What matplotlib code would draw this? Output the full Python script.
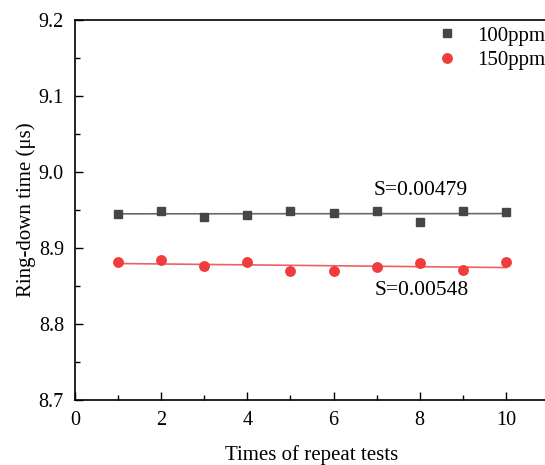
import numpy as np
import matplotlib
matplotlib.use("Agg")
import matplotlib.pyplot as plt
from matplotlib.ticker import MultipleLocator

plt.rcParams['font.family'] = ['Liberation Serif', 'DejaVu Serif']
plt.rcParams['mathtext.fontset'] = 'stix'

tests = [1, 2, 3, 4, 5, 6, 7, 8, 9, 10]
ppm100 = [8.9447, 8.9490, 8.9404, 8.9434, 8.9483, 8.9456, 8.9490, 8.9346, 8.9490, 8.9470]
ppm150 = [8.8811, 8.8846, 8.8763, 8.8811, 8.8702, 8.8693, 8.8746, 8.8798, 8.8711, 8.8811]
labels = ["100ppm", "150ppm"]
annots = ["S=0.00479", "S=0.00548"]

fig = plt.figure(figsize=(5.45, 4.65), dpi=100)
ax = fig.add_axes([75/545, 65/465, 474/545, 380/465])

x = np.array(tests)
for y, c_m, c_l, mk, ms, lab in [(ppm100, '#464646', '#6a6a6a', 's', 6.2, labels[0]),
                                 (ppm150, '#f03c3c', '#f06060', 'o', 6.8, labels[1])]:
    y = np.array(y)
    p = np.polyfit(x, y, 1)
    ax.plot(x, np.polyval(p, x), color=c_l, lw=1.2, zorder=2)
    ax.plot(x, y, linestyle='none', marker=mk, color=c_m, ms=ms,
            label=lab, zorder=3)

ax.text(8.03, 8.975, annots[0], fontsize=15.5, ha='center', va='center')
ax.text(8.05, 8.8435, annots[1], fontsize=15.5, ha='center', va='center')

ax.set_xlim(0, 11)
ax.set_ylim(8.7, 9.2)
ax.xaxis.set_major_locator(MultipleLocator(2))
ax.xaxis.set_minor_locator(MultipleLocator(1))
ax.yaxis.set_major_locator(MultipleLocator(0.1))
ax.yaxis.set_minor_locator(MultipleLocator(0.05))
ax.tick_params(which='both', direction='in', labelsize=14.5, top=False, right=False, pad=8)
ax.tick_params(which='major', length=6, width=1)
ax.tick_params(which='minor', length=3.5, width=1)
ax.spines['right'].set_visible(False)
for s in ax.spines.values():
    s.set_linewidth(1.2)

ax.set_xlabel("Times of repeat tests", fontsize=15, labelpad=11)
ax.set_ylabel("Ring-down time (μs)", fontsize=15, labelpad=2)

ax.legend(loc='upper left', bbox_to_anchor=(0.763, 0.984), frameon=False, fontsize=15,
          handlelength=1.0, handletextpad=0.94, borderaxespad=0, borderpad=0,
          labelspacing=0.25)

fig.savefig("out.png", dpi=100)
